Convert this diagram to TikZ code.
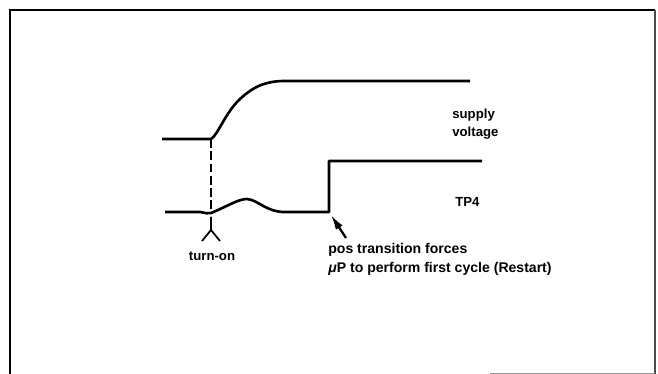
\documentclass[tikz,border=0pt]{standalone}
\usepackage{fontspec}
\setmainfont{Liberation Sans}
\usetikzlibrary{arrows.meta}
\begin{document}
\begin{tikzpicture}[
  x=0.02cm, y=-0.02cm,
  font=\fontsize{7.5}{10.2}\selectfont\bfseries,
  frame/.style={line width=1.1pt},
  trace/.style={line width=1.5pt, line join=round},
  marker/.style={line width=1pt},
  label/.style={inner sep=0pt, align=left, anchor=west},
  arrow/.style={-{Latex[length=0.3cm, width=0.16cm]}, line width=1.3pt}
]
\useasboundingbox (0,0) rectangle (658,374);
% frame
\draw[frame] (10,374) -- (10,10) -- (655,10);
\draw[line width=0.7pt, black!70] (655,10) -- (655,374);
\draw[line width=0.5pt, black!40] (490,373) -- (655,373);
% supply voltage
\coordinate (on) at (211,139);
\draw[trace] (162,139) -- (on) .. controls (218,135) and (225,113) .. (240,99)
  .. controls (255,85) and (268,81) .. (285,81) -- (470,81);
% TP4
\coordinate (tpon) at (211,213);
\coordinate (rise) at (329,212);
\draw[trace] (165,212) -- (200,212) .. controls (206,213) and (208,214) .. (tpon)
  .. controls (226,207) and (238,199) .. (247,199)
  .. controls (258,200) and (265,211) .. (283,212) -- (rise) -- (329,161) -- (482,161);
\draw[marker, dash pattern=on 5pt off 2pt] (on) -- (tpon);
% turn-on mark
\coordinate (mtop) at (211,217);
\coordinate (mfork) at (211,230);
\draw[marker] (mtop) -- (mfork) -- (202,241);
\draw[marker] (mfork) -- (220,241);
\node[inner sep=0pt] (turnon) at (212,256) {turn-on};
% labels
\node[label] (supply) at (452,124) {supply\\voltage};
\node[label] (tp4) at (455,202) {TP4};
\node[label, font=\fontsize{8}{10.8}\selectfont\bfseries] (restart) at (328,259)
  {pos transition forces\\\textit{μ}P to perform first cycle (Restart)};
% arrow to the rising edge
\coordinate (tail) at (346,238);
\coordinate (tip) at (331,215);
\draw[arrow] (tail) -- (tip);
\end{tikzpicture}
\end{document}
